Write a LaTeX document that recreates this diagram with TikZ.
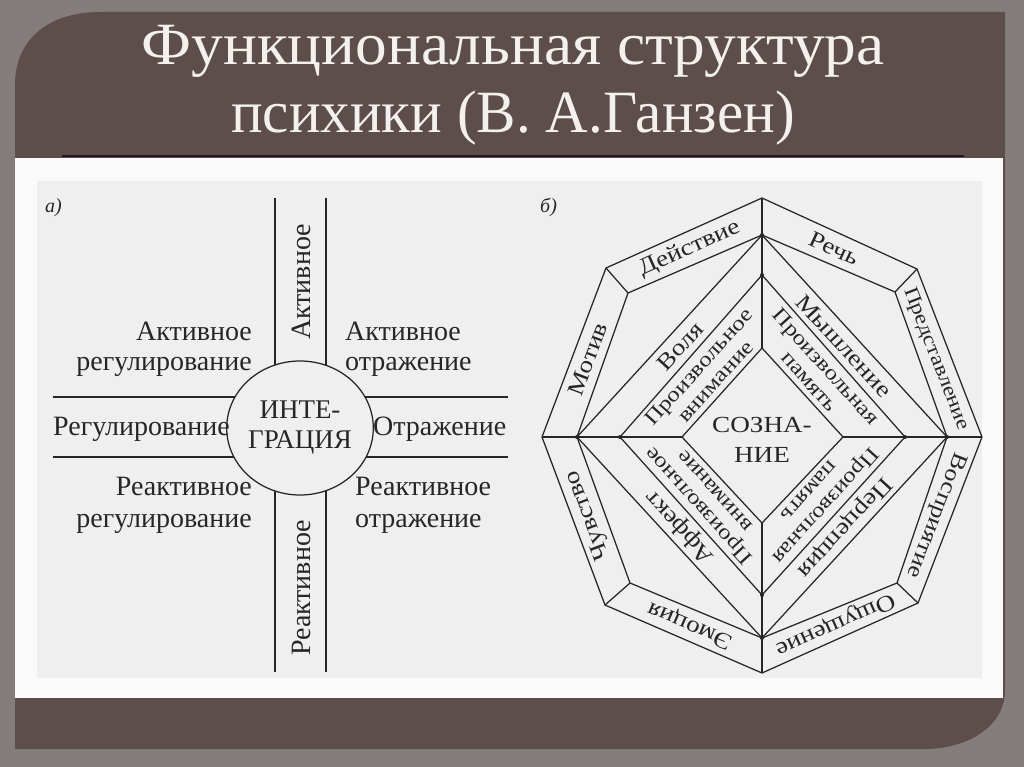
\documentclass[tikz,border=0pt]{standalone}
\usepackage{fontspec}
\setmainfont{Liberation Serif}
\newfontfamily\dfont{Liberation Serif}
\newfontfamily\wfont[FakeStretch=1.18]{Liberation Serif}
\usetikzlibrary{shapes.geometric}
\definecolor{frame}{HTML}{857D7B}
\definecolor{panel}{HTML}{5D4E4C}
\definecolor{paper}{HTML}{FAFAFA}
\definecolor{sheet}{HTML}{EFEFEF}
\definecolor{ink}{HTML}{262626}
\definecolor{titlefg}{HTML}{F3F0EE}
\definecolor{titlesh}{HTML}{221A19}
\begin{document}
\begin{tikzpicture}[x=1pt,y=-1pt,
  edge/.style={draw=ink, line width=1.25pt, line join=round},
  lbl/.style={text=ink, font=\dfont\fontsize{28}{30}\selectfont, inner sep=0pt},
  band/.style={text=ink, font=\wfont\fontsize{23}{25}\selectfont, inner sep=0pt},
  bandtwo/.style={text=ink, font=\wfont\fontsize{21}{22}\selectfont, inner sep=0pt, align=center},
  joint/.style={circle, fill=ink, inner sep=0pt, minimum size=4pt},
  ttl/.style={font=\fontsize{60}{60}\selectfont, text=titlefg, inner sep=0pt, anchor=base},
]
% background
\useasboundingbox (0,0) rectangle (1024,767);
\fill[frame] (0,0) rectangle (1024,767);
\fill[panel] (15,749) -- (15,85) .. controls (15,38) and (50,12) .. (100,12) -- (1005,12)
  -- (1005,690) .. controls (1005,728) and (965,749) .. (925,749) -- cycle;
\fill[paper] (15,158) rectangle (1003,698);
\draw[titlesh, line width=1.2pt] (62,156) -- (964,156);
\fill[sheet] (37,181) rectangle (982,678);

% title
\node[ttl] (t1) at (513,65) {\scalebox{1.055}[1]{Функциональная структура}};
\node[ttl] (t2) at (513,133) {\scalebox{0.985}[1]{психики (В. А.Ганзен)}};

% ---------- figure a ----------
\node[lbl, font=\dfont\itshape\fontsize{20}{20}\selectfont, anchor=base west] (la) at (45,213) {а)};
\coordinate (vlt) at (275,198); \coordinate (vlb) at (275,672);
\coordinate (vrt) at (326,198); \coordinate (vrb) at (326,672);
\coordinate (hul) at (53,397);  \coordinate (hur) at (508,397);
\coordinate (hll) at (53,457);  \coordinate (hlr) at (508,457);
\draw[edge] (vlt) -- (vlb);
\draw[edge] (vrt) -- (vrb);
\draw[edge] (hul) -- (hur);
\draw[edge] (hll) -- (hlr);
\node[edge, fill=sheet, ellipse, minimum width=126pt, minimum height=134pt, inner sep=0pt,
      text=ink, font=\dfont\fontsize{27}{30}\selectfont, align=center] (integ) at (300,428) {ИНТЕ-\\ГРАЦИЯ};

\node[lbl, rotate=90] (act) at (301,282) {Активное};
\node[lbl, rotate=90] (react) at (301,588) {Реактивное};

\node[lbl, anchor=base east] (ar1) at (252,340) {Активное};
\node[lbl, anchor=base east] (ar2) at (252,370) {регулирование};
\node[lbl, anchor=base west] (reg) at (53,435) {Регулирование};
\node[lbl, anchor=base east] (rr1) at (252,495) {Реактивное};
\node[lbl, anchor=base east] (rr2) at (252,527) {регулирование};
\node[lbl, anchor=base west] (ao1) at (345,340) {Активное};
\node[lbl, anchor=base west] (ao2) at (345,370) {отражение};
\node[lbl, anchor=base west] (otr) at (373,435) {Отражение};
\node[lbl, anchor=base west] (ro1) at (355,495) {Реактивное};
\node[lbl, anchor=base west] (ro2) at (355,527) {отражение};

% ---------- figure b ----------
\node[lbl, font=\dfont\itshape\fontsize{20}{20}\selectfont, anchor=base west] (lb) at (540,213) {б)};
\coordinate (OT) at (762,198);  \coordinate (OTR) at (917,269); \coordinate (OR) at (982,437);
\coordinate (OBR) at (918,603); \coordinate (OB) at (762,673);  \coordinate (OBL) at (605,605);
\coordinate (OL) at (542,437);  \coordinate (OTL) at (606,268);
\coordinate (IT) at (762,235);  \coordinate (ITR) at (895,292); \coordinate (IR) at (947,437);
\coordinate (IBR) at (897,583); \coordinate (IB) at (762,638);  \coordinate (IBL) at (630,583);
\coordinate (IL) at (577,437);  \coordinate (ITL) at (628,293);
\coordinate (MT) at (762,275);  \coordinate (MR) at (905,437);
\coordinate (MB) at (762,595);  \coordinate (ML) at (620,437);
\coordinate (DT) at (762,348);  \coordinate (DR) at (843,437);
\coordinate (DB) at (762,523);  \coordinate (DL) at (682,437);

\draw[edge] (OT)--(OTR)--(OR)--(OBR)--(OB)--(OBL)--(OL)--(OTL)--cycle;
\draw[edge] (IT)--(ITR)--(IR)--(IBR)--(IB)--(IBL)--(IL)--(ITL)--cycle;
\draw[edge] (OTR)--(ITR) (OBR)--(IBR) (OBL)--(IBL) (OTL)--(ITL);
\draw[edge] (IT)--(IR)--(IB)--(IL)--cycle;
\draw[edge] (MT)--(MR)--(MB)--(ML)--cycle;
\draw[edge] (DT)--(DR)--(DB)--(DL)--cycle;
\draw[edge] (OT)--(DT) (DB)--(OB) (OL)--(DL) (DR)--(OR);
\foreach \p in {IT,IR,IB,IL,MT,MR,MB,ML} \node[joint] (j\p) at (\p) {};

\node[band, rotate=24.2]   (deis) at (689.5,248.5) {Действие};
\node[band, rotate=-24.6]  (rech) at (834,248.5) {Речь};
\node[band, rotate=69.3]   (motiv) at (588,359) {Мотив};
\node[band, rotate=-68.8, font=\wfont\fontsize{20}{22}\selectfont] (pred) at (936,359) {Представление};
\node[band, rotate=-111.1, font=\wfont\fontsize{22}{24}\selectfont] (vospr) at (936,515) {Восприятие};
\node[band, rotate=-155.8] (oshch) at (835,624) {Ощущение};
\node[band, rotate=156.6]  (emoc) at (690,625) {Эмоция};
\node[band, rotate=110.6]  (chuv) at (588.5,515.5) {Чувство};

\node[band, rotate=47.5]   (volya) at (680,346) {Воля};
\node[bandtwo, rotate=48]  (pv1) at (707,374) {Произвольное\\внимание};
\node[band, rotate=-47.5]  (mysh) at (844,346) {Мышление};
\node[bandtwo, rotate=-48] (pp1) at (818,374) {Произвольная\\память};
\node[band, rotate=132.6]  (affekt) at (680,527) {Аффект};
\node[bandtwo, rotate=132] (pv2) at (706,499) {Произвольное\\внимание};
\node[band, rotate=-132.6] (perc) at (844,527) {Перцепция};
\node[bandtwo, rotate=-132] (pp2) at (818,499) {Произвольная\\память};

\node[text=ink, font=\wfont\fontsize{23}{30}\selectfont, align=center, inner sep=0pt] (soz) at (762,440) {СОЗНА-\\НИЕ};
\end{tikzpicture}
\end{document}
